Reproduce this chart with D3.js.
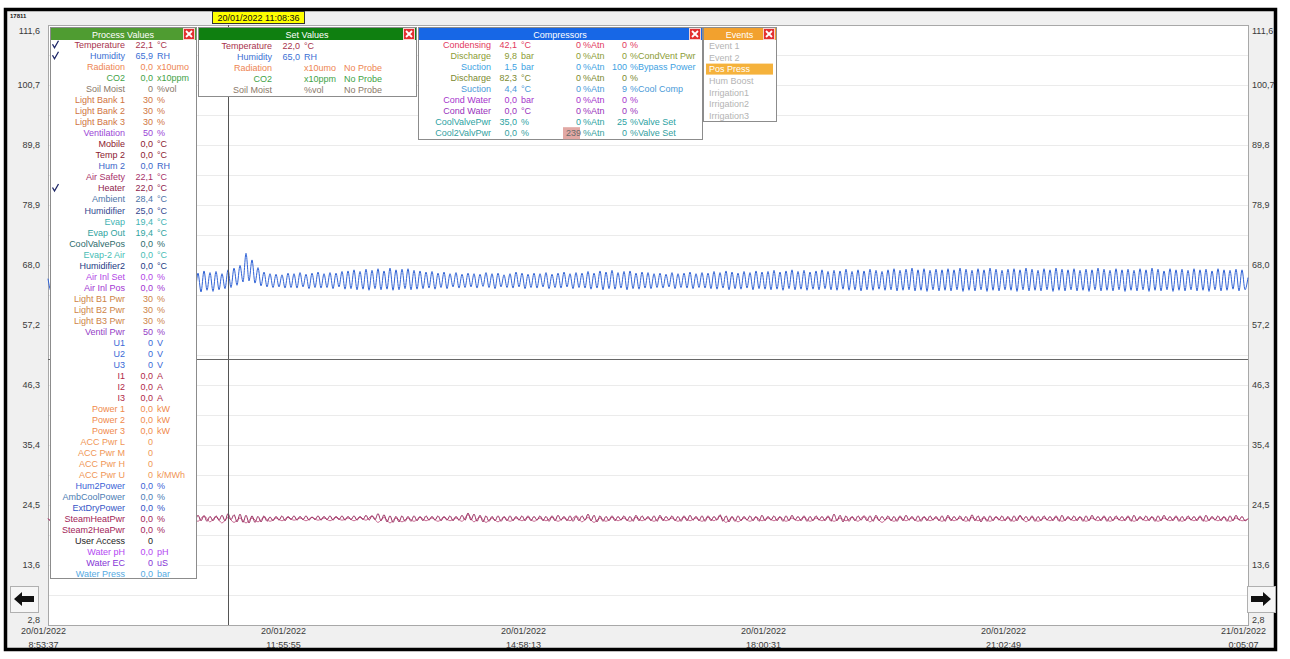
<!DOCTYPE html>
<html lang="en">
<head>
<meta charset="utf-8">
<title>Trend</title>
<style>
  body { margin: 0; background: #fff; }
  svg text { font-family: "Liberation Sans", Arial, sans-serif; font-size: 9px; }
</style>
</head>
<body>
<div id="chart"></div>
<script src="https://cdnjs.cloudflare.com/ajax/libs/d3/7.8.5/d3.min.js"></script>
<script>
// ---- time axis ----
var timeStart = new Date(2022, 0, 20, 8, 53, 37);
var timeEnd = new Date(2022, 0, 21, 0, 5, 7);
var xTickDates = ["20/01/2022", "20/01/2022", "20/01/2022", "20/01/2022", "20/01/2022", "21/01/2022"];
var xTickTimes = ["8:53:37", "11:55:55", "14:58:13", "18:00:31", "21:02:49", "0:05:07"];
var cursorTime = new Date(2022, 0, 20, 11, 8, 36);
var cursorLabel = "20/01/2022 11:08:36";
var cursorValue = 51.0;

// ---- value axis ----
var yTicks = [2.8, 13.68, 24.56, 35.44, 46.32, 57.2, 68.08, 78.96, 89.84, 100.72, 111.6];
var yTickLabels = ["2,8", "13,6", "24,5", "35,4", "46,3", "57,2", "68,0", "78,9", "89,8", "100,7", "111,6"];

// ---- series ----
var humidity = [
  65.6, 63.4, 66.8, 63.6, 66.5, 63.3, 66.9, 63.5, 66.6, 63.4, 66.7, 63.7, 66.4, 63.3, 66.8, 63.5, 66.9, 63.4, 66.5, 63.6,
  66.7, 63.3, 66.8, 63.5, 66.4, 63.4, 66.9, 63.6, 66.6, 63.3, 66.7, 63.5, 66.8, 63.4, 66.5, 63.6, 66.9, 63.3, 66.6, 63.5,
  66.8, 63.4, 66.5, 63.2, 66.9, 63.5, 66.7, 63.3, 66.8, 63.4, 66.6, 63.2, 67.0, 63.5, 66.7, 63.3, 66.9, 63.6, 66.5, 63.8,
  67.2, 64.0, 67.5, 64.4, 68.0, 65.0, 70.2, 65.2, 69.0, 64.8, 67.6, 64.3, 66.8, 64.1, 66.5, 64.0, 66.4, 64.1, 66.3, 63.9,
  66.6, 64.0, 66.5, 63.9, 66.7, 64.1, 66.4, 63.8, 66.6, 64.0, 66.8, 63.9, 66.5, 64.0, 66.7, 63.8, 66.6, 64.1, 66.9, 63.7,
  67.0, 63.8, 67.2, 63.6, 66.9, 63.7, 67.3, 63.5, 67.1, 63.8, 67.4, 63.6, 67.0, 63.7, 67.5, 63.5, 67.2, 63.6, 67.3, 63.8,
  67.4, 63.6, 67.1, 63.7, 67.0, 63.8, 66.8, 63.9, 66.9, 63.7, 66.6, 64.0, 66.8, 63.8, 66.5, 64.1, 66.7, 63.9, 66.4, 64.0,
  66.6, 64.1, 66.5, 63.9, 66.4, 64.2, 66.7, 64.0, 66.5, 63.8, 66.6, 64.1, 66.3, 64.0, 66.5, 63.9, 66.8, 64.1, 66.6, 63.8,
  66.4, 64.0, 66.6, 63.9, 66.5, 64.1, 66.7, 63.8, 66.4, 64.0, 66.6, 63.9, 66.8, 64.1, 66.5, 63.8, 66.7, 64.0, 66.6, 63.9,
  66.9, 63.7, 66.6, 63.9, 67.0, 63.6, 66.8, 63.8, 67.1, 63.7, 66.7, 63.9, 66.9, 63.6, 67.0, 63.8, 66.6, 63.7, 66.8, 63.9,
  66.7, 63.8, 66.5, 64.0, 66.6, 63.9, 66.4, 64.1, 66.7, 63.8, 66.5, 64.0, 66.6, 63.9, 66.8, 63.8, 66.5, 64.0, 66.7, 63.9,
  66.6, 63.8, 66.9, 63.7, 66.7, 63.9, 67.0, 63.6, 66.8, 63.8, 66.6, 63.7, 66.9, 63.9, 66.7, 63.6, 67.0, 63.8, 66.8, 63.7,
  66.9, 63.6, 67.1, 63.7, 66.8, 63.5, 67.0, 63.8, 67.2, 63.6, 66.9, 63.7, 67.1, 63.5, 66.8, 63.7, 67.0, 63.6, 67.2, 63.8,
  66.9, 63.6, 67.1, 63.5, 67.0, 63.7, 67.3, 63.5, 66.9, 63.6, 67.2, 63.4, 67.0, 63.6, 67.3, 63.5, 67.1, 63.7, 66.9, 63.5,
  67.2, 63.6, 67.4, 63.4, 67.1, 63.5, 67.3, 63.6, 67.5, 63.4, 67.2, 63.5, 67.4, 63.3, 67.1, 63.6, 67.3, 63.4, 67.2, 63.5,
  67.4, 63.4, 67.2, 63.6, 67.5, 63.3, 67.3, 63.5, 67.1, 63.4, 67.4, 63.6, 67.2, 63.3, 67.5, 63.5, 67.3, 63.4, 67.1, 63.6,
  67.3, 63.5, 67.4, 63.3, 67.2, 63.6, 67.5, 63.4, 67.3, 63.5, 67.1, 63.4, 67.4, 63.6, 67.2, 63.3, 67.5, 63.5, 67.3, 63.4,
  67.2, 63.6, 67.4, 63.4, 67.1, 63.5, 67.3, 63.3, 67.2, 63.6, 67.5, 63.4, 67.3, 63.5, 67.1, 63.4, 67.4, 63.6, 67.2, 63.3,
  67.3, 63.5, 67.1, 63.4, 67.4, 63.6, 67.2, 63.3, 67.5, 63.5, 67.3, 63.4, 67.0, 63.6, 67.4, 63.3, 67.2, 63.5, 67.3, 63.4,
  67.1, 63.6, 67.4, 63.4, 67.2, 63.5, 67.3, 63.3, 67.0, 63.6, 67.4, 63.4, 67.2, 63.5, 67.1, 63.7, 67.3, 63.4, 67.2, 63.6,
  65.8
];
var temperature = [
  22.1, 21.7, 22.6, 21.6, 22.5, 21.7, 22.7, 21.6, 22.6, 21.8, 22.5, 21.6, 22.7, 21.7, 22.6, 21.6, 22.5, 21.8, 22.6, 21.7,
  22.7, 21.6, 22.5, 21.7, 22.6, 21.8, 22.7, 21.6, 22.5, 21.7, 22.6, 21.6, 22.7, 21.8, 22.5, 21.7, 22.6, 21.6, 22.7, 21.7,
  22.6, 21.8, 22.5, 21.6, 22.7, 21.7, 22.6, 21.6, 22.5, 21.8, 22.7, 21.7, 22.6, 21.6, 22.5, 21.7, 22.6, 21.8, 22.7, 21.7,
  23.0, 21.9, 22.8, 21.5, 22.9, 21.4, 22.7, 21.3, 22.6, 21.4, 22.5, 21.5, 22.6, 21.6, 22.4, 21.7, 22.5, 21.8, 22.6, 21.7,
  22.5, 21.9, 22.6, 21.8, 22.5, 21.9, 22.6, 21.8, 22.4, 21.9, 22.6, 21.8, 22.5, 21.9, 22.6, 21.8, 22.5, 21.9, 22.6, 21.8,
  22.5, 21.9, 22.6, 21.8, 22.5, 21.9, 22.7, 21.8, 22.6, 21.9, 23.0, 21.7, 22.8, 21.5, 22.6, 21.4, 22.5, 21.5, 22.6, 21.6,
  22.5, 21.6, 22.6, 21.7, 22.5, 21.7, 22.6, 21.8, 22.5, 21.8, 22.6, 21.7, 22.5, 21.8, 22.6, 21.7, 22.5, 21.8, 22.7, 21.8,
  23.1, 21.8, 22.9, 21.6, 22.7, 21.5, 22.6, 21.6, 22.5, 21.7, 22.6, 21.6, 22.5, 21.7, 22.6, 21.7, 22.5, 21.8, 22.6, 21.7,
  22.6, 21.7, 22.5, 21.8, 22.6, 21.7, 22.5, 21.6, 22.6, 21.7, 22.7, 21.8, 22.5, 21.7, 22.6, 21.6, 22.5, 21.7, 22.6, 21.8,
  22.9, 21.7, 22.7, 21.5, 22.6, 21.6, 22.5, 21.7, 22.6, 21.7, 22.5, 21.8, 22.6, 21.7, 22.5, 21.6, 22.7, 21.7, 22.6, 21.8,
  22.5, 21.7, 22.6, 21.6, 22.7, 21.7, 22.5, 21.8, 22.6, 21.7, 22.5, 21.6, 22.6, 21.7, 22.7, 21.8, 22.5, 21.7, 22.6, 21.6,
  22.6, 21.7, 22.5, 21.8, 22.8, 21.6, 22.6, 21.5, 22.5, 21.6, 22.6, 21.7, 22.5, 21.8, 22.6, 21.7, 22.5, 21.6, 22.7, 21.7,
  22.5, 21.8, 22.6, 21.7, 22.5, 21.6, 22.6, 21.7, 22.7, 21.8, 22.5, 21.7, 22.6, 21.6, 22.5, 21.7, 22.6, 21.8, 22.5, 21.7,
  22.6, 21.6, 22.9, 21.7, 22.7, 21.5, 22.6, 21.6, 22.5, 21.7, 22.6, 21.8, 22.5, 21.7, 22.6, 21.6, 22.7, 21.7, 22.5, 21.8,
  22.6, 21.7, 22.5, 21.6, 22.6, 21.7, 22.7, 21.8, 22.5, 21.7, 22.6, 21.6, 22.5, 21.7, 22.6, 21.8, 22.5, 21.7, 22.6, 21.6,
  22.7, 21.7, 22.5, 21.8, 22.6, 21.7, 22.5, 21.6, 22.8, 21.7, 22.6, 21.5, 22.5, 21.6, 22.6, 21.7, 22.5, 21.8, 22.6, 21.7,
  22.5, 21.6, 22.6, 21.7, 22.7, 21.8, 22.5, 21.7, 22.6, 21.6, 22.5, 21.7, 22.6, 21.8, 22.5, 21.7, 22.6, 21.6, 22.7, 21.7,
  22.5, 21.8, 22.6, 21.7, 22.5, 21.6, 22.6, 21.7, 22.7, 21.8, 22.5, 21.7, 22.6, 21.6, 22.5, 21.7, 22.6, 21.8, 22.5, 21.7,
  22.6, 21.6, 22.7, 21.7, 22.5, 21.8, 22.6, 21.7, 22.5, 21.6, 22.6, 21.7, 22.7, 21.8, 22.5, 21.7, 22.6, 21.6, 22.5, 21.7,
  22.6, 21.8, 22.5, 21.7, 22.6, 21.6, 22.7, 21.7, 22.5, 21.8, 22.6, 21.7, 22.5, 21.6, 22.6, 21.7, 22.7, 21.8, 22.5, 21.7,
  22.1
];
var heater = [
  22.0, 21.6, 22.3, 21.7, 22.2, 21.6, 22.3, 21.7, 22.2, 21.6, 22.3, 21.7, 22.2, 21.6, 22.3, 21.7, 22.2, 21.6, 22.3, 21.7,
  22.2, 21.6, 22.3, 21.7, 22.2, 21.6, 22.6, 21.5, 22.4, 21.3, 22.3, 21.4, 22.2, 21.3, 22.2, 21.5, 22.3, 21.6, 22.2, 21.7,
  22.3, 21.8, 22.2, 21.7, 22.3, 21.8, 22.2, 21.7, 22.3, 21.8, 22.2, 21.7, 22.3, 21.8, 22.6, 21.4, 22.3, 21.3, 22.2, 21.5,
  22.2, 21.6, 22.3, 21.7, 22.2, 21.6, 22.3, 21.7, 22.2, 21.6, 22.8, 21.5, 22.4, 21.4, 22.2, 21.5, 22.3, 21.6, 22.2, 21.7,
  22.3, 21.6, 22.2, 21.7, 22.3, 21.6, 22.2, 21.7, 22.6, 21.5, 22.3, 21.4, 22.2, 21.6, 22.3, 21.7, 22.2, 21.6, 22.3, 21.7,
  22.2, 21.6, 22.3, 21.7, 22.2, 21.6, 22.3, 21.7, 22.2, 21.6, 22.3, 21.7, 22.5, 21.4, 22.3, 21.5, 22.2, 21.6, 22.3, 21.7,
  22.2, 21.7, 22.3, 21.6, 22.2, 21.7, 22.3, 21.6, 22.2, 21.7, 22.3, 21.6, 22.2, 21.7, 22.3, 21.6, 22.6, 21.5, 22.3, 21.4,
  22.2, 21.6, 22.3, 21.7, 22.2, 21.6, 22.3, 21.7, 22.2, 21.6, 22.3, 21.7, 22.2, 21.6, 22.3, 21.7, 22.2, 21.6, 22.3, 21.7,
  22.2, 21.6, 22.5, 21.5, 22.3, 21.6, 22.2, 21.7, 22.3, 21.6, 22.2, 21.7, 22.3, 21.6, 22.2, 21.7, 22.3, 21.6, 22.2, 21.7,
  22.3, 21.6, 22.2, 21.7, 22.3, 21.6, 22.2, 21.7, 22.3, 21.6, 22.2, 21.7, 22.3, 21.6, 22.2, 21.7, 22.3, 21.6, 22.2, 21.7,
  22.0
];

// ---- Process Values panel ----
var pvLabels = ["Temperature", "Humidity", "Radiation", "CO2", "Soil Moist", "Light Bank 1", "Light Bank 2", "Light Bank 3",
  "Ventilation", "Mobile", "Temp 2", "Hum 2", "Air Safety", "Heater", "Ambient", "Humidifier", "Evap", "Evap Out",
  "CoolValvePos", "Evap-2 Air", "Humidifier2", "Air Inl Set", "Air Inl Pos", "Light B1 Pwr", "Light B2 Pwr", "Light B3 Pwr",
  "Ventil Pwr", "U1", "U2", "U3", "I1", "I2", "I3", "Power 1", "Power 2", "Power 3", "ACC Pwr L", "ACC Pwr M", "ACC Pwr H",
  "ACC Pwr U", "Hum2Power", "AmbCoolPower", "ExtDryPower", "SteamHeatPwr", "Steam2HeaPwr", "User Access", "Water pH",
  "Water EC", "Water Press"];
var pvValues = ["22,1", "65,9", "0,0", "0,0", "0", "30", "30", "30", "50", "0,0", "0,0", "0,0", "22,1", "22,0", "28,4", "25,0",
  "19,4", "19,4", "0,0", "0,0", "0,0", "0,0", "0,0", "30", "30", "30", "50", "0", "0", "0", "0,0", "0,0", "0,0", "0,0", "0,0",
  "0,0", "0", "0", "0", "0", "0,0", "0,0", "0,0", "0,0", "0,0", "0", "0,0", "0", "0,0"];
var pvUnits = ["°C", "RH", "x10umo", "x10ppm", "%vol", "%", "%", "%", "%", "°C", "°C", "RH", "°C", "°C", "°C", "°C", "°C", "°C",
  "%", "°C", "°C", "%", "%", "%", "%", "%", "%", "V", "V", "V", "A", "A", "A", "kW", "kW", "kW", "", "", "", "k/MWh", "%", "%",
  "%", "%", "%", "", "pH", "uS", "bar"];
var pvChecked = ["Temperature", "Humidity", "Heater"];
var pvColors = ["#a8324c", "#3b6fd4", "#ee8552", "#3fa247", "#8a7868", "#cf7442", "#cf7442", "#cf7442", "#9b45d6", "#8c2030",
  "#8c2030", "#3a64c8", "#a8306a", "#8e1c4c", "#4d74a8", "#33478f", "#3fb3b3", "#2fa3a0", "#2d6b6b", "#48bdb5", "#243a84",
  "#b246e6", "#a234d2", "#cd8448", "#cd8448", "#cd8448", "#9440c6", "#3a68d6", "#3a68d6", "#3a68d6", "#b02848", "#b02848",
  "#b02848", "#f08a4c", "#f08a4c", "#f08a4c", "#f09656", "#f09656", "#f09656", "#f09656", "#3a62d6", "#4c7cb4", "#3454c6",
  "#a22458", "#a22458", "#222222", "#b448f2", "#8634d6", "#55aae2"];

// ---- Set Values panel ----
var svLabels = ["Temperature", "Humidity", "Radiation", "CO2", "Soil Moist"];
var svValues = ["22,0", "65,0", "", "", ""];
var svUnits = ["°C", "RH", "x10umo", "x10ppm", "%vol"];
var svProbe = ["", "", "No Probe", "No Probe", "No Probe"];
var svColors = ["#a8324c", "#3b6fd4", "#ee8552", "#3fa247", "#8a7868"];

// ---- Compressors panel ----
var cpLabels = ["Condensing", "Discharge", "Suction", "Discharge", "Suction", "Cond Water", "Cond Water", "CoolValvePwr", "Cool2ValvPwr"];
var cpValues = ["42,1", "9,8", "1,5", "82,3", "4,4", "0,0", "0,0", "35,0", "0,0"];
var cpUnits = ["°C", "bar", "bar", "°C", "°C", "bar", "°C", "%", "%"];
var cpAtn = ["0", "0", "0", "0", "0", "0", "0", "0", "239"];
var cpOut = ["0", "0", "100", "0", "9", "0", "0", "25", "0"];
var cpOutLabels = ["%", "%CondVent Pwr", "%Bypass Power", "%", "%Cool Comp", "%", "%", "%Valve Set", "%Valve Set"];
var cpColors = ["#e2385e", "#8c9c36", "#3ea2e2", "#7c8a30", "#4a9ad8", "#a634cc", "#9a32bc", "#2ca2a2", "#34a0a0"];

// ---- Events panel ----
var events = ["Event 1", "Event 2", "Pos Press", "Hum Boost", "Irrigation1", "Irrigation2", "Irrigation3"];
var activeEvent = "Pos Press";

// ================= drawing =================
var W = 1290, H = 659;
var plotL = 48, plotR = 1248, plotT = 25, plotB = 625;

var svg = d3.select("#chart").append("svg")
    .attr("width", W)
    .attr("height", H);

// window frame
svg.append("rect")
    .attr("x", 5.5).attr("y", 9.5).attr("width", 1270).attr("height", 640)
    .attr("fill", "#f0f0f0").attr("stroke", "#000").attr("stroke-width", 3.5);

svg.append("text")
    .attr("x", 10).attr("y", 18)
    .style("font-size", "6px").style("font-weight", "bold")
    .attr("fill", "#222")
    .text("17811");

var x = d3.scaleTime().domain([timeStart, timeEnd]).range([plotL, plotR]);
var y = d3.scaleLinear().domain([yTicks[0], yTicks[yTicks.length - 1]]).range([plotB, plotT]);

// plot area
svg.append("rect")
    .attr("x", plotL + 0.5).attr("y", plotT + 0.5)
    .attr("width", plotR - plotL).attr("height", plotB - plotT)
    .attr("fill", "#fff").attr("stroke", "#a8a8a8");

// grid, every half tick
var gridVals = [];
yTicks.forEach(function(v, i) {
  gridVals.push(v);
  if (i < yTicks.length - 1) gridVals.push((v + yTicks[i + 1]) / 2);
});
svg.append("g").selectAll("line")
    .data(gridVals.slice(1, -1))
    .enter().append("line")
    .attr("x1", plotL + 1).attr("x2", plotR)
    .attr("y1", function(d) { return Math.round(y(d)) + 0.5; })
    .attr("y2", function(d) { return Math.round(y(d)) + 0.5; })
    .attr("stroke", "#ebebeb");

// y axes
var yLeft = d3.axisLeft(y).tickValues(yTicks).tickSize(0).tickPadding(8)
    .tickFormat(function(d, i) { return yTickLabels[i]; });
var yRight = d3.axisRight(y).tickValues(yTicks).tickSize(0).tickPadding(4)
    .tickFormat(function(d, i) { return yTickLabels[i]; });

function styleY(g) {
  g.select(".domain").remove();
  g.selectAll("text")
      .style("font-family", "Liberation Sans, Arial, sans-serif")
      .style("font-size", "9px")
      .attr("fill", "#3a3a3a")
      .attr("dy", function(d, i) { return i === 0 ? "-0.25em" : (i === yTicks.length - 1 ? "0.95em" : "0.32em"); });
}
svg.append("g").attr("transform", "translate(" + plotL + ",0)").call(yLeft).call(styleY);
svg.append("g").attr("transform", "translate(" + plotR + ",0)").call(yRight).call(styleY);

// x axis (two line labels)
var xTickVals = xTickDates.map(function(d, i) {
  var p = d.split("/"), t = xTickTimes[i].split(":");
  return new Date(+p[2], +p[1] - 1, +p[0], +t[0], +t[1], +t[2]);
});
var xAxis = d3.axisBottom(x).tickValues(xTickVals).tickSize(0).tickPadding(3)
    .tickFormat(function(d, i) { return xTickDates[i]; });
var gx = svg.append("g").attr("transform", "translate(-5," + plotB + ")").call(xAxis);
gx.select(".domain").remove();
gx.selectAll("text")
    .style("font-family", "Liberation Sans, Arial, sans-serif")
    .style("font-size", "9px")
    .attr("fill", "#3a3a3a")
    .attr("dy", "0.71em");
gx.selectAll(".tick").append("text")
    .attr("y", 17).attr("dy", "0.71em")
    .style("font-family", "Liberation Sans, Arial, sans-serif")
    .style("font-size", "9px")
    .attr("fill", "#3a3a3a")
    .attr("text-anchor", "middle")
    .text(function(d, i) { return xTickTimes[i]; });

// series
function times(n) {
  return d3.range(n).map(function(i) { return new Date(+timeStart + i * (timeEnd - timeStart) / (n - 1)); });
}
function drawSeries(vals, color, w) {
  var ts = times(vals.length);
  var line = d3.line()
      .curve(d3.curveMonotoneX)
      .x(function(d, i) { return x(ts[i]); })
      .y(function(d) { return y(d); });
  svg.append("path")
      .datum(vals)
      .attr("d", line)
      .attr("fill", "none")
      .attr("stroke", color)
      .attr("stroke-width", w);
}
drawSeries(heater, "#c25a86", 0.9);
drawSeries(temperature, "#96265a", 1);
drawSeries(humidity, "#2f62d6", 1);

// cursor cross
var cx = Math.round(x(cursorTime)) + 2.5;
svg.append("line")
    .attr("x1", cx).attr("x2", cx).attr("y1", plotT).attr("y2", plotB)
    .attr("stroke", "#555");
svg.append("line")
    .attr("x1", plotL).attr("x2", plotR)
    .attr("y1", Math.round(y(cursorValue)) + 0.5).attr("y2", Math.round(y(cursorValue)) + 0.5)
    .attr("stroke", "#666");
svg.append("rect")
    .attr("x", cx - 16).attr("y", 11.5).attr("width", 92).attr("height", 12)
    .attr("fill", "#ffff00").attr("stroke", "#333");
svg.append("text")
    .attr("x", cx - 16 + 46).attr("y", 20.5)
    .attr("text-anchor", "middle").attr("fill", "#111")
    .text(cursorLabel);

// ---- panels ----
function panel(px, py, pw, ph, title, headColor) {
  var g = svg.append("g");
  g.append("rect")
      .attr("x", px + 0.5).attr("y", py + 0.5).attr("width", pw).attr("height", ph)
      .attr("fill", "#fff").attr("stroke", "#8c8c8c");
  g.append("rect")
      .attr("x", px + 1).attr("y", py + 1).attr("width", pw - 1).attr("height", 12)
      .attr("fill", headColor);
  g.append("text")
      .attr("x", px + pw / 2).attr("y", py + 10.5)
      .attr("text-anchor", "middle").attr("fill", "#fff")
      .text(title);
  // close box
  var bx = px + pw - 12.5, by = py + 1.5;
  g.append("rect")
      .attr("x", bx).attr("y", by).attr("width", 11).attr("height", 11)
      .attr("fill", "#e23030").attr("stroke", "#f4d0d0");
  g.append("path")
      .attr("d", "M" + (bx + 2.5) + "," + (by + 2.5) + "L" + (bx + 8.5) + "," + (by + 8.5) +
                 "M" + (bx + 8.5) + "," + (by + 2.5) + "L" + (bx + 2.5) + "," + (by + 8.5))
      .attr("stroke", "#fff").attr("stroke-width", 1.8);
  return g;
}

// Process Values
var rowH = 11.02;
var pv = panel(50, 27, 146, 551, "Process Values", "#4f9c31");
pvLabels.forEach(function(lab, i) {
  var cy = 45 + i * rowH + 3.2;
  var c = pvColors[i];
  pv.append("text").attr("x", 125).attr("y", cy).attr("text-anchor", "end").attr("fill", c).text(lab);
  pv.append("text").attr("x", 153).attr("y", cy).attr("text-anchor", "end").attr("fill", c).text(pvValues[i]);
  pv.append("text").attr("x", 157).attr("y", cy).attr("fill", c).text(pvUnits[i]);
  if (pvChecked.indexOf(lab) >= 0) {
    pv.append("path")
        .attr("d", "M52.5," + (cy - 4) + "L54.5," + (cy - 0.5) + "L58.5," + (cy - 7.5))
        .attr("fill", "none").attr("stroke", "#1b2466").attr("stroke-width", 1.3);
  }
});

// Set Values
var sv = panel(198, 27, 218, 69, "Set Values", "#0f7f10");
svLabels.forEach(function(lab, i) {
  var cy = 45.5 + i * 11 + 3.2;
  var c = svColors[i];
  sv.append("text").attr("x", 272).attr("y", cy).attr("text-anchor", "end").attr("fill", c).text(lab);
  sv.append("text").attr("x", 300).attr("y", cy).attr("text-anchor", "end").attr("fill", c).text(svValues[i]);
  sv.append("text").attr("x", 304).attr("y", cy).attr("fill", c).text(svUnits[i]);
  sv.append("text").attr("x", 344).attr("y", cy).attr("fill", c).text(svProbe[i]);
});

// Compressors
var cp = panel(418, 27, 284, 112, "Compressors", "#1767e6");
cpLabels.forEach(function(lab, i) {
  var cy = 45 + i * 11 + 3.2;
  var c = cpColors[i];
  if (cpAtn[i] === "239") {
    cp.append("rect").attr("x", 563).attr("y", cy - 9).attr("width", 17).attr("height", 12).attr("fill", "#e2a8a4");
  }
  cp.append("text").attr("x", 491).attr("y", cy).attr("text-anchor", "end").attr("fill", c).text(lab);
  cp.append("text").attr("x", 517).attr("y", cy).attr("text-anchor", "end").attr("fill", c).text(cpValues[i]);
  cp.append("text").attr("x", 521).attr("y", cy).attr("fill", c).text(cpUnits[i]);
  cp.append("text").attr("x", 581).attr("y", cy).attr("text-anchor", "end")
      .attr("fill", cpAtn[i] === "239" ? "#6a6a6a" : c).text(cpAtn[i]);
  cp.append("text").attr("x", 583).attr("y", cy).attr("fill", c).text("%Atn");
  cp.append("text").attr("x", 627).attr("y", cy).attr("text-anchor", "end").attr("fill", c).text(cpOut[i]);
  cp.append("text").attr("x", 630).attr("y", cy).attr("fill", c).text(cpOutLabels[i]);
});

// Events
var ev = panel(703, 27, 73, 94, "Events", "#f2a12e");
events.forEach(function(lab, i) {
  var cy = 45.7 + i * 11.7;
  var on = lab === activeEvent;
  if (on) {
    ev.append("rect").attr("x", 706).attr("y", cy - 5.5).attr("width", 67).attr("height", 11).attr("fill", "#f5b23c");
  }
  ev.append("text").attr("x", 709).attr("y", cy + 3.2)
      .attr("fill", on ? "#fff" : "#b4b4b4").text(lab);
});

// scroll buttons
function button(bx, by, dir) {
  var g = svg.append("g");
  g.append("rect").attr("x", bx + 0.5).attr("y", by + 0.5).attr("width", 28).attr("height", 26)
      .attr("fill", "#f6f6f6").attr("stroke", "#b0b0b0");
  var m = bx + 14, c = by + 13;
  var d = dir < 0
    ? "M" + (m - 10) + "," + c + "L" + (m - 2) + "," + (c - 7) + "L" + (m - 2) + "," + (c - 3) + "L" + (m + 10) + "," + (c - 3) +
      "L" + (m + 10) + "," + (c + 3) + "L" + (m - 2) + "," + (c + 3) + "L" + (m - 2) + "," + (c + 7) + "Z"
    : "M" + (m + 10) + "," + c + "L" + (m + 2) + "," + (c - 7) + "L" + (m + 2) + "," + (c - 3) + "L" + (m - 10) + "," + (c - 3) +
      "L" + (m - 10) + "," + (c + 3) + "L" + (m + 2) + "," + (c + 3) + "L" + (m + 2) + "," + (c + 7) + "Z";
  g.append("path").attr("d", d).attr("fill", "#111");
}
button(10, 586, -1);
button(1247, 586, 1);
</script>
</body>
</html>
